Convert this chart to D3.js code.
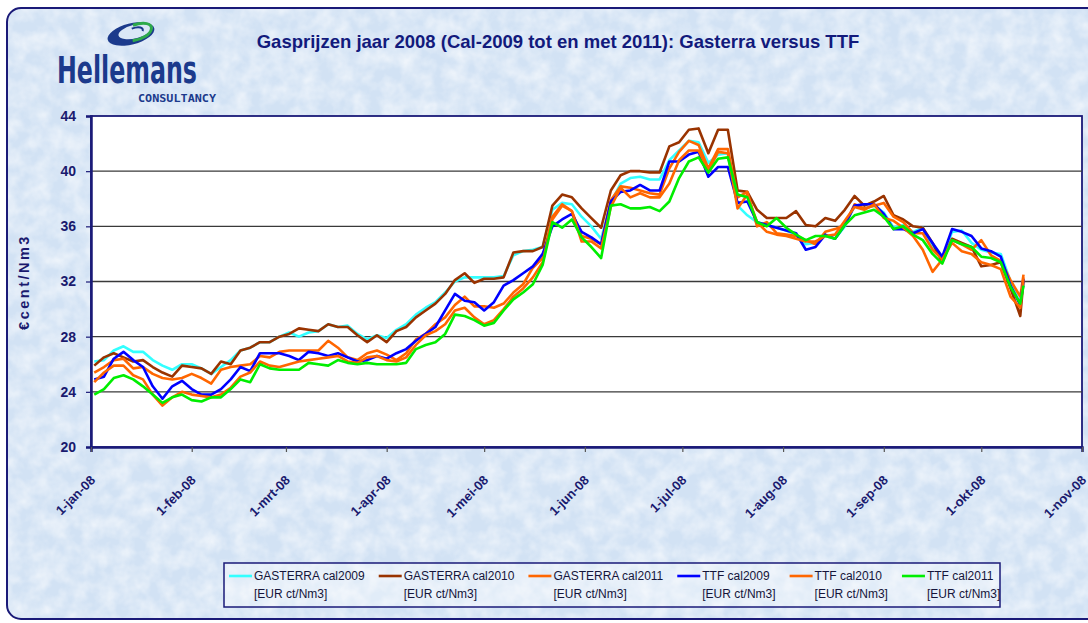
<!DOCTYPE html>
<html>
<head>
<meta charset="utf-8">
<script src="https://cdn.jsdelivr.net/npm/d3@7"></script>
<style>
    body { margin: 0; background: #ffffff; }
    svg { display: block; font-family: Arial, "Liberation Sans", sans-serif; }
</style>
</head>
<body>
<div id="chart"></div>
<script>
// Sample dates (every ~3 days)
const dates = [
    "2008-01-02","2008-01-05","2008-01-08","2008-01-11","2008-01-14","2008-01-17","2008-01-20","2008-01-23","2008-01-26","2008-01-29",
    "2008-02-01","2008-02-04","2008-02-07","2008-02-10","2008-02-13","2008-02-16","2008-02-19","2008-02-22","2008-02-25","2008-02-28",
    "2008-03-02","2008-03-05","2008-03-08","2008-03-11","2008-03-14","2008-03-17","2008-03-20","2008-03-23","2008-03-26","2008-03-29",
    "2008-04-01","2008-04-04","2008-04-07","2008-04-10","2008-04-13","2008-04-16","2008-04-19","2008-04-22","2008-04-25","2008-04-28",
    "2008-05-01","2008-05-04","2008-05-07","2008-05-10","2008-05-13","2008-05-16","2008-05-19","2008-05-22","2008-05-25","2008-05-28","2008-05-31",
    "2008-06-03","2008-06-06","2008-06-09","2008-06-12","2008-06-15","2008-06-18","2008-06-21","2008-06-24","2008-06-27","2008-06-30",
    "2008-07-03","2008-07-06","2008-07-09","2008-07-12","2008-07-15","2008-07-18","2008-07-21","2008-07-24","2008-07-27","2008-07-30",
    "2008-08-02","2008-08-05","2008-08-08","2008-08-11","2008-08-14","2008-08-17","2008-08-20","2008-08-23","2008-08-26","2008-08-29",
    "2008-09-01","2008-09-04","2008-09-07","2008-09-10","2008-09-13","2008-09-16","2008-09-19","2008-09-22","2008-09-25","2008-09-28",
    "2008-10-01","2008-10-04","2008-10-07","2008-10-10","2008-10-13","2008-10-14"
];

const gasterra2009 = [
    26.2,26.3,27.0,27.3,26.9,26.9,26.3,25.9,25.6,26.0,
    26.0,25.7,25.3,25.8,26.3,27.0,27.2,27.6,27.6,28.0,
    28.3,28.0,28.3,28.4,28.9,28.7,28.8,28.2,27.8,28.1,
    27.9,28.5,28.9,29.6,30.1,30.5,31.2,32.0,32.3,32.3,
    32.3,32.3,32.4,33.9,34.2,34.3,34.5,37.2,37.7,37.6,36.7,
    36.0,35.1,37.7,39.1,39.5,39.6,39.4,39.4,40.8,41.5,
    42.2,42.1,40.6,41.2,41.3,37.5,36.8,36.3,36.1,35.9,
    35.7,35.4,34.7,34.8,35.3,35.1,36.0,37.5,37.3,37.5,
    37.0,35.9,36.1,35.6,35.9,34.5,33.6,35.6,35.7,34.8,
    34.3,34.1,34.0,32.0,30.4,31.8
];

const gasterra2010 = [
    25.9,26.5,26.8,26.5,26.2,26.3,25.8,25.4,25.1,25.9,
    25.8,25.7,25.3,26.2,26.0,27.0,27.2,27.6,27.6,28.0,
    28.2,28.6,28.5,28.4,28.9,28.7,28.7,28.1,27.6,28.1,
    27.6,28.4,28.7,29.4,29.9,30.4,31.1,32.1,32.6,31.9,
    32.2,32.2,32.3,34.1,34.2,34.2,34.5,37.5,38.3,38.1,37.3,
    36.6,35.9,38.6,39.7,40.0,40.0,39.9,39.9,41.8,42.1,
    43.0,43.1,41.3,43.0,43.0,38.6,38.5,37.2,36.6,36.6,
    36.6,37.1,36.1,36.0,36.6,36.4,37.2,38.2,37.5,37.8,
    38.2,36.8,36.5,36.0,35.9,34.8,33.4,35.1,34.8,34.5,
    33.1,33.2,33.4,31.5,29.5,32.1
];

const gasterra2011 = [
    25.4,25.8,26.3,26.4,25.7,25.8,25.3,25.0,24.9,25.0,
    25.3,25.0,24.6,25.6,25.8,25.9,26.0,26.6,26.5,26.9,
    27.0,27.0,27.0,27.0,27.7,27.2,26.5,26.3,26.8,27.0,
    26.7,26.3,26.8,27.8,28.2,28.9,29.4,30.3,30.9,30.2,
    30.2,30.1,30.4,31.2,31.8,33.0,33.7,36.7,37.6,37.1,35.3,
    35.1,34.7,37.9,38.9,38.8,38.6,38.4,38.3,40.2,41.4,
    42.2,41.9,40.2,41.6,41.6,38.1,38.5,36.0,36.3,35.5,
    35.4,35.3,35.0,34.7,35.6,35.8,36.1,37.6,37.3,37.5,
    37.7,36.7,36.3,35.5,35.5,34.3,33.6,35.0,34.7,34.3,
    35.0,33.9,33.5,32.1,30.9,32.5
];

const ttf2009 = [
    24.9,25.1,26.4,26.9,26.3,25.8,24.4,23.5,24.4,24.8,
    24.2,23.8,23.8,24.2,24.9,25.8,25.5,26.8,26.8,26.8,
    26.6,26.3,26.9,26.8,26.6,26.8,26.5,26.2,26.3,26.6,
    26.4,26.8,27.1,27.7,28.2,28.7,29.9,31.1,30.6,30.5,
    29.9,30.5,31.7,32.1,32.6,33.1,34.0,36.0,36.5,36.9,35.6,
    35.2,34.7,37.8,38.5,38.6,39.0,38.6,38.6,40.7,40.7,
    41.2,41.4,39.6,40.3,40.3,37.7,37.8,36.3,36.1,35.9,
    35.7,35.5,34.3,34.5,35.4,35.1,36.1,37.5,37.6,37.6,
    36.9,35.8,35.8,35.5,35.8,34.8,33.8,35.8,35.6,35.3,
    34.4,34.2,33.8,31.7,30.3,32.2
];

const ttf2010 = [
    24.7,25.4,25.9,25.9,25.2,24.9,23.8,23.0,23.6,24.0,
    23.8,23.7,23.6,23.8,24.3,25.1,25.4,26.2,25.9,25.8,
    26.0,26.2,26.3,26.4,26.5,26.6,26.2,26.1,26.5,26.6,
    26.3,26.2,26.5,27.4,28.1,28.4,28.9,29.9,30.1,29.4,
    28.9,29.2,30.0,30.9,31.5,32.3,33.4,36.5,37.5,37.1,34.9,
    34.9,34.4,37.4,38.8,38.1,38.4,38.1,38.1,39.1,40.8,
    41.5,41.5,40.0,41.4,41.3,37.3,38.3,36.3,35.6,35.4,
    35.3,35.1,34.9,34.9,35.3,35.4,36.4,37.4,37.2,37.6,
    36.6,36.4,35.9,35.3,34.3,32.7,33.6,34.8,34.2,34.0,
    33.4,33.2,32.9,30.9,30.1,32.3
];

const ttf2011 = [
    23.8,24.2,25.0,25.2,24.9,24.4,23.8,23.2,23.6,23.8,
    23.4,23.3,23.6,23.6,24.2,24.9,24.7,26.0,25.7,25.6,
    25.6,25.6,26.1,26.0,25.9,26.3,26.1,26.0,26.1,26.0,
    26.0,26.0,26.1,27.1,27.4,27.6,28.2,29.6,29.5,29.2,
    28.8,29.0,29.9,30.7,31.2,31.8,33.2,36.3,35.9,36.5,35.2,
    34.5,33.7,37.5,37.6,37.3,37.3,37.4,37.1,37.8,39.5,
    40.7,41.0,39.9,40.9,41.0,38.3,38.1,36.3,36.0,36.6,
    35.9,35.4,35.0,35.3,35.3,35.1,36.1,36.8,37.0,37.2,
    36.7,35.8,36.0,35.4,35.0,34.0,33.3,35.0,34.7,34.5,
    33.8,33.7,33.4,31.6,30.4,31.7
];

const seriesLabels = ["GASTERRA cal2009", "GASTERRA cal2010", "GASTERRA cal2011", "TTF cal2009", "TTF cal2010", "TTF cal2011"];
const seriesUnit = "[EUR ct/Nm3]";
const seriesValues = [gasterra2009, gasterra2010, gasterra2011, ttf2009, ttf2010, ttf2011];
const seriesColors = ["#33ffff", "#993300", "#ff6600", "#0000ff", "#ff6600", "#00ee00"];

const yTicks = [20, 24, 28, 32, 36, 40, 44];
const monthTicks = ["2008-01-01","2008-02-01","2008-03-01","2008-04-01","2008-05-01","2008-06-01",
                    "2008-07-01","2008-08-01","2008-09-01","2008-10-01","2008-11-01"];
const monthLabels = ["1-jan-08","1-feb-08","1-mrt-08","1-apr-08","1-mei-08","1-jun-08",
                     "1-jul-08","1-aug-08","1-sep-08","1-okt-08","1-nov-08"];

const title = "Gasprijzen jaar 2008 (Cal-2009 tot en met 2011): Gasterra versus TTF";
const yLabel = "€cent/Nm3";

/* Set up container */
const W = 1088, H = 623;
const navy = "#1a1a78";
const parseDate = d3.timeParse("%Y-%m-%d");

const svg = d3.select("#chart")
    .append("svg")
    .attr("width", W)
    .attr("height", H);

// Mottled paper texture for the panel
const defs = svg.append("defs");
const tex = defs.append("filter")
    .attr("id", "tex")
    .attr("x", 0).attr("y", 0)
    .attr("width", "100%").attr("height", "100%");
tex.append("feTurbulence")
    .attr("type", "fractalNoise")
    .attr("baseFrequency", "0.06")
    .attr("numOctaves", 3)
    .attr("seed", 5)
    .attr("result", "noise");
tex.append("feColorMatrix")
    .attr("in", "noise")
    .attr("type", "matrix")
    .attr("values", "0 0 0 0 1  0 0 0 0 1  0 0 0 0 1  1.3 0 0 0 -0.4")
    .attr("result", "spots");
tex.append("feComposite")
    .attr("in", "spots")
    .attr("in2", "SourceGraphic")
    .attr("operator", "in");

svg.append("rect")
    .attr("x", 7).attr("y", 8)
    .attr("width", 1110).attr("height", 611)
    .attr("rx", 14)
    .attr("fill", "#d2e2f4");
svg.append("rect")
    .attr("x", 7).attr("y", 8)
    .attr("width", 1110).attr("height", 611)
    .attr("rx", 14)
    .attr("fill", "#ffffff")
    .attr("opacity", 0.8)
    .attr("filter", "url(#tex)");
svg.append("rect")
    .attr("x", 7).attr("y", 8)
    .attr("width", 1110).attr("height", 611)
    .attr("rx", 14)
    .attr("fill", "none")
    .attr("stroke", navy)
    .attr("stroke-width", 2);

/* Logo */
const logo = svg.append("g");
const swirl = logo.append("g").attr("transform", "translate(131,34) rotate(-14)");
swirl.append("ellipse").attr("rx", 24).attr("ry", 10.5).attr("fill", "#1b3a8c");
swirl.append("ellipse").attr("cx", 5).attr("cy", -1.5).attr("rx", 17.5).attr("ry", 6.8).attr("fill", "#dae7f6");
swirl.append("path")
    .attr("d", "M4,-8 C16,-9 23,-5 21,0 C19,5 10,8 0,7")
    .attr("fill", "none")
    .attr("stroke", "#2eaa4a")
    .attr("stroke-width", 3);
swirl.append("path")
    .attr("d", "M2,-5 C10,-6 14,-3 12,0")
    .attr("fill", "none")
    .attr("stroke", "#1b3a8c")
    .attr("stroke-width", 2);

logo.append("text")
    .attr("x", 57).attr("y", 83)
    .attr("textLength", 140)
    .attr("lengthAdjust", "spacingAndGlyphs")
    .attr("font-family", "'Liberation Sans Narrow', 'DejaVu Sans Condensed', Arial, sans-serif")
    .attr("font-weight", "bold")
    .attr("font-size", 37)
    .attr("fill", "#1b3a8c")
    .text("Hellemans");
logo.append("text")
    .attr("x", 138).attr("y", 102)
    .attr("textLength", 78)
    .attr("lengthAdjust", "spacingAndGlyphs")
    .attr("font-family", "'DejaVu Sans Mono', monospace")
    .attr("font-weight", "bold")
    .attr("font-size", 10.5)
    .attr("fill", "#1b3a8c")
    .text("CONSULTANCY");

/* Title */
svg.append("text")
    .attr("x", 558).attr("y", 48)
    .attr("text-anchor", "middle")
    .attr("font-weight", "bold")
    .attr("font-size", 18.5)
    .attr("fill", "#121a7c")
    .text(title);

/* Scales */
const plot = { left: 91, right: 1082, top: 116, bottom: 447 };

const xScale = d3.scaleTime()
    .domain([parseDate(monthTicks[0]), parseDate(monthTicks[monthTicks.length - 1])])
    .range([plot.left, plot.right]);

const yScale = d3.scaleLinear()
    .domain([20, 44])
    .range([plot.bottom, plot.top]);

// Plot area
svg.append("rect")
    .attr("x", plot.left).attr("y", plot.top)
    .attr("width", plot.right - plot.left)
    .attr("height", plot.bottom - plot.top)
    .attr("fill", "#ffffff")
    .attr("stroke", navy)
    .attr("stroke-width", 1.8);

// Gridlines
svg.append("g")
    .selectAll("line")
    .data(yTicks.filter(d => d > 20 && d < 44))
    .enter()
    .append("line")
    .attr("x1", plot.left).attr("x2", plot.right)
    .attr("y1", d => yScale(d)).attr("y2", d => yScale(d))
    .attr("stroke", "#3a3a3a")
    .attr("stroke-width", 1.4);

/* Axes */
const yAxis = d3.axisLeft(yScale)
    .tickValues(yTicks)
    .tickSize(5)
    .tickPadding(10);

const gy = svg.append("g")
    .attr("transform", `translate(${plot.left},0)`)
    .call(yAxis);
gy.select(".domain").attr("stroke", navy).attr("stroke-width", 2.5);
gy.selectAll(".tick line").attr("stroke", navy).attr("stroke-width", 1.2);
gy.selectAll(".tick text")
    .attr("font-family", "Arial, 'Liberation Sans', sans-serif")
    .attr("font-size", 14)
    .attr("font-weight", "bold")
    .attr("fill", "#1a1a6e");

const xAxis = d3.axisBottom(xScale)
    .tickValues(monthTicks.map(parseDate))
    .tickSize(5)
    .tickFormat((d, i) => monthLabels[i]);

const gx = svg.append("g")
    .attr("transform", `translate(0,${plot.bottom})`)
    .call(xAxis);
gx.select(".domain").attr("stroke", navy).attr("stroke-width", 2.5);
gx.selectAll(".tick line").attr("stroke", "#555555").attr("stroke-width", 1.2);
gx.selectAll(".tick text")
    .attr("x", 4.5)
    .attr("y", 34)
    .attr("dy", 0)
    .attr("text-anchor", "end")
    .attr("transform", "rotate(-45, 4.5, 34)")
    .attr("font-family", "Arial, 'Liberation Sans', sans-serif")
    .attr("font-size", 13)
    .attr("font-weight", "bold")
    .attr("fill", "#1a1a6e");

// Y axis title
svg.append("text")
    .attr("transform", "translate(29,282) rotate(-90)")
    .attr("text-anchor", "middle")
    .attr("font-weight", "bold")
    .attr("font-size", 14.5)
    .attr("letter-spacing", 2.5)
    .attr("fill", "#1a1a6e")
    .text(yLabel);

/* Lines */
const line = d3.line()
    .x(d => xScale(d[0]))
    .y(d => yScale(d[1]));

const main = svg.append("g");
for (let i = 0; i < seriesValues.length; i++) {
    const rows = dates.map((d, j) => [parseDate(d), seriesValues[i][j]]);
    main.append("path")
        .datum(rows)
        .attr("d", line)
        .attr("fill", "none")
        .attr("stroke", seriesColors[i])
        .attr("stroke-width", 2.6)
        .attr("stroke-linejoin", "round");
}

/* Legend */
const legend = svg.append("g");
legend.append("rect")
    .attr("x", 224).attr("y", 563)
    .attr("width", 776).attr("height", 44)
    .attr("fill", "rgba(255,255,255,0.35)")
    .attr("stroke", navy)
    .attr("stroke-width", 1.5);

let lx = 229;
for (let i = 0; i < seriesLabels.length; i++) {
    const item = legend.append("g").attr("transform", `translate(${lx},0)`);
    item.append("line")
        .attr("x1", 0).attr("x2", 23)
        .attr("y1", 576).attr("y2", 576)
        .attr("stroke", seriesColors[i])
        .attr("stroke-width", 2.6);
    const t1 = item.append("text")
        .attr("x", 25).attr("y", 580)
        .attr("font-size", 12)
        .attr("fill", "#15153a")
        .text(seriesLabels[i]);
    const t2 = item.append("text")
        .attr("x", 25).attr("y", 598)
        .attr("font-size", 12)
        .attr("fill", "#15153a")
        .text(seriesUnit);
    const w = Math.max(t1.node().getComputedTextLength(), t2.node().getComputedTextLength());
    lx += 25 + w + 14;
}
</script>
</body>
</html>
